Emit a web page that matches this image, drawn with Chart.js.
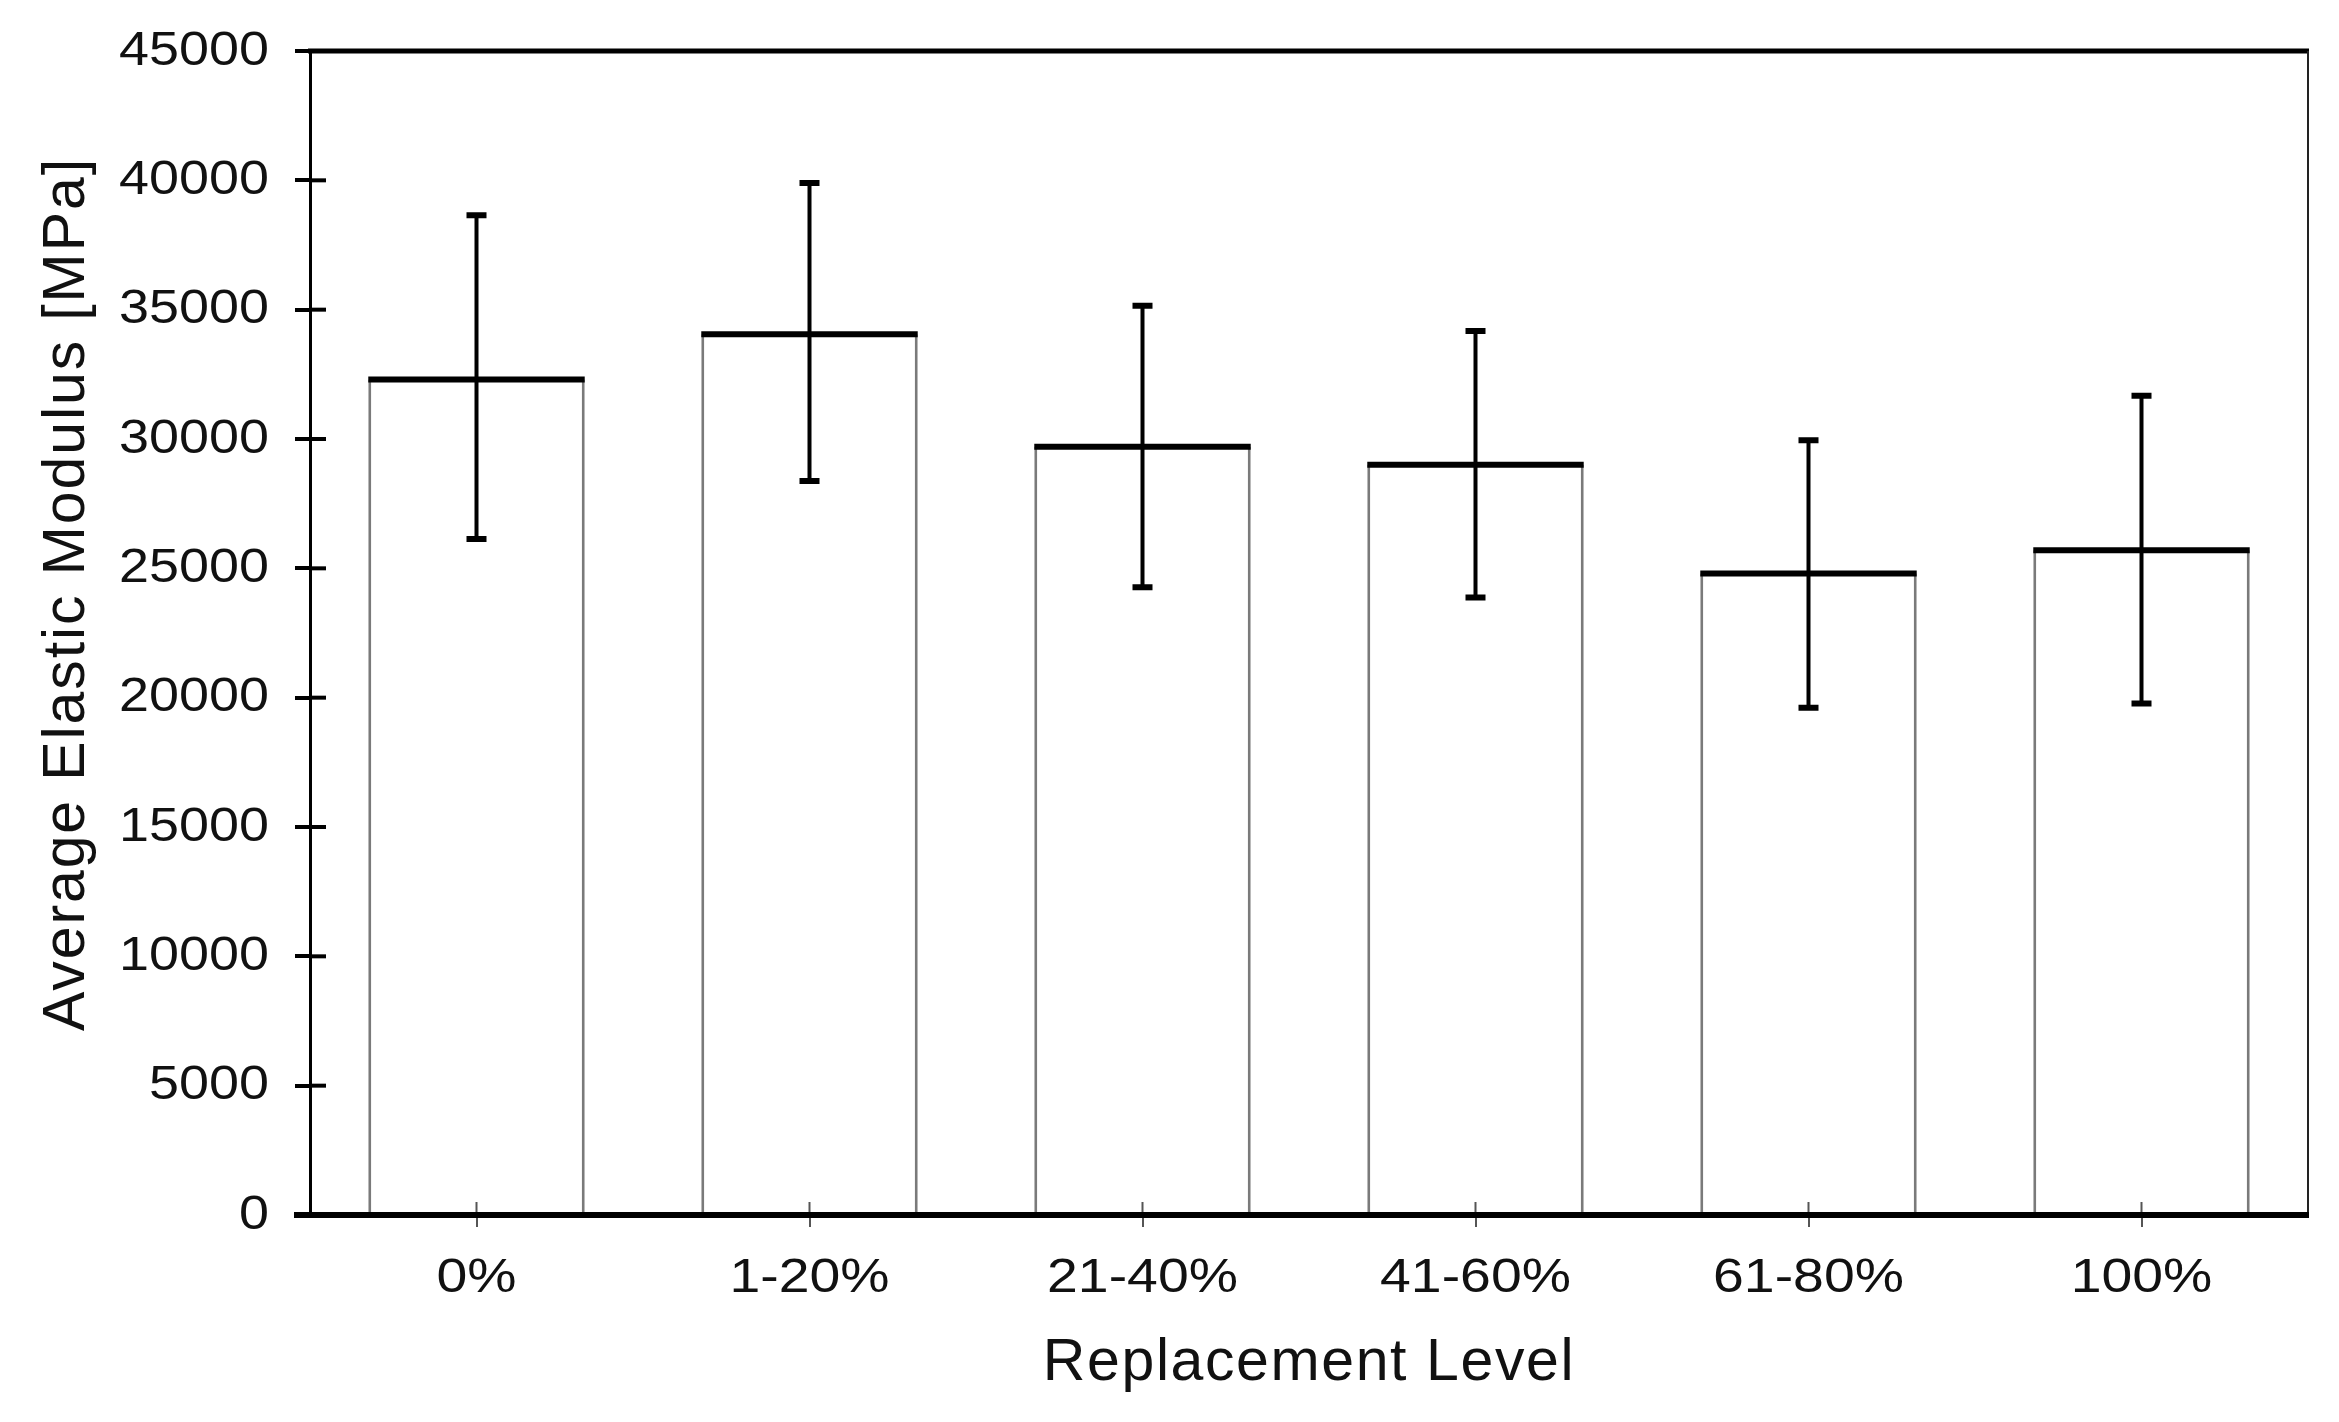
<!DOCTYPE html>
<html>
<head>
<meta charset="utf-8">
<script src="https://cdn.jsdelivr.net/npm/chart.js@4.4.0/dist/chart.umd.min.js"></script>
<style>
  html, body { margin: 0; padding: 0; background: #fff; }
  #wrap { width: 2339px; height: 1422px; }
</style>
</head>
<body>
<div id="wrap"><canvas id="chart" width="2339" height="1422"></canvas></div>
<script>
// data
const categories = ['0%', '1-20%', '21-40%', '41-60%', '61-80%', '100%'];
const meanModulus = [32300, 34050, 29700, 29000, 24800, 25700];
const errUpper = [38650, 39900, 35150, 34180, 29950, 31670];
const errLower = [26130, 28380, 24270, 23870, 19610, 19770];
const yTicks = [0, 5000, 10000, 15000, 20000, 25000, 30000, 35000, 40000, 45000];

const FONT = 'Liberation Sans, Arial, sans-serif';
const INK = '#111';

// the original glyphs are a bit wider than Arial: wrap a scale's draw method,
// optionally stretching each fillText horizontally around its anchor
function patchDraw(scale, method, opts) {
  const key = '_patched_' + method;
  if (scale[key]) return;
  scale[key] = true;
  const orig = scale[method];
  scale[method] = function(...args) {
    const ctx = this.ctx;
    ctx.save();
    if (opts.spacing) ctx.letterSpacing = opts.spacing;
    if (opts.dy) ctx.translate(0, opts.dy);
    if (opts.sx) {
      const fill = CanvasRenderingContext2D.prototype.fillText;
      ctx.fillText = function(t, x, y, m) {
        this.save();
        this.translate(x, y);
        this.scale(opts.sx, 1);
        if (m === undefined) fill.call(this, t, 0, 0); else fill.call(this, t, 0, 0, m);
        this.restore();
      };
    }
    orig.apply(this, args);
    delete ctx.fillText;
    ctx.restore();
  };
}

// frame pieces Excel draws that Chart.js doesn't: top/right border, inner tick halves
const framePlugin = {
  id: 'frame',
  afterDraw(chart) {
    const { ctx, chartArea: a, scales } = chart;
    ctx.save();
    ctx.strokeStyle = '#000';
    // top border
    ctx.lineWidth = 5;
    ctx.beginPath(); ctx.moveTo(a.left - 2, a.top); ctx.lineTo(a.right + 1, a.top); ctx.stroke();
    // right border
    ctx.lineWidth = 2;
    ctx.strokeStyle = '#222';
    ctx.beginPath(); ctx.moveTo(a.right, a.top); ctx.lineTo(a.right, a.bottom); ctx.stroke();
    // y ticks, inner half
    ctx.strokeStyle = '#000';
    ctx.lineWidth = 4;
    yTicks.forEach(v => {
      const y = scales.y.getPixelForValue(v);
      ctx.beginPath(); ctx.moveTo(a.left, y); ctx.lineTo(a.left + 16, y); ctx.stroke();
    });
    // x ticks, inner half
    ctx.strokeStyle = '#555';
    ctx.lineWidth = 2;
    categories.forEach((c, i) => {
      const x = scales.x.getPixelForValue(i);
      ctx.beginPath(); ctx.moveTo(x, a.bottom); ctx.lineTo(x, a.bottom - 13); ctx.stroke();
    });
    // x axis line again, the white bars cover it
    ctx.strokeStyle = '#000';
    ctx.lineWidth = 6;
    ctx.beginPath(); ctx.moveTo(a.left - 16, a.bottom); ctx.lineTo(a.right + 1, a.bottom); ctx.stroke();
    ctx.restore();
  }
};

// thick bar tops and error bars
const errorBarPlugin = {
  id: 'errorBars',
  afterDatasetsDraw(chart) {
    const { ctx, scales } = chart;
    const bars = chart.getDatasetMeta(0).data;
    ctx.save();
    ctx.strokeStyle = '#000';
    bars.forEach((bar, i) => {
      const half = bar.width / 2;
      ctx.lineWidth = 6;
      ctx.beginPath(); ctx.moveTo(bar.x - half, bar.y); ctx.lineTo(bar.x + half, bar.y); ctx.stroke();
      const yHi = scales.y.getPixelForValue(errUpper[i]);
      const yLo = scales.y.getPixelForValue(errLower[i]);
      ctx.lineWidth = 4;
      ctx.beginPath(); ctx.moveTo(bar.x, yHi); ctx.lineTo(bar.x, yLo); ctx.stroke();
      ctx.lineWidth = 6;
      ctx.beginPath();
      ctx.moveTo(bar.x - 10, yHi); ctx.lineTo(bar.x + 10, yHi);
      ctx.moveTo(bar.x - 10, yLo); ctx.lineTo(bar.x + 10, yLo);
      ctx.stroke();
    });
    ctx.restore();
  }
};

new Chart(document.getElementById('chart').getContext('2d'), {
  type: 'bar',
  data: {
    labels: categories,
    datasets: [{
      data: meanModulus,
      backgroundColor: '#fff',
      borderColor: '#7a7a7a',
      borderWidth: { left: 3, right: 3, top: 0, bottom: 0 },
      borderSkipped: false,
      barPercentage: 0.65,
      categoryPercentage: 1
    }]
  },
  options: {
    responsive: false,
    animation: false,
    events: [],
    layout: { padding: { top: 51, right: 31, left: 0, bottom: 0 } },
    plugins: { legend: { display: false }, tooltip: { enabled: false } },
    scales: {
      x: {
        afterFit(scale) {
          scale.height = 207;
          patchDraw(scale, 'drawLabels', { sx: 1.13 });
          patchDraw(scale, 'drawTitle', { spacing: '1.6px' });
        },
        border: { display: true, color: '#000', width: 6 },
        grid: { display: true, drawOnChartArea: false, offset: false, tickLength: 12, color: '#555', lineWidth: 2 },
        ticks: { color: INK, padding: 22, font: { family: FONT, size: 49 } },
        title: { display: true, text: 'Replacement Level', color: INK, padding: { top: 0, bottom: 23 }, font: { family: FONT, size: 59 } }
      },
      y: {
        min: 0,
        max: 45000,
        afterFit(scale) {
          scale.width = 310;
          scale.paddingTop = 0;
          scale.paddingBottom = 0;
          patchDraw(scale, 'drawLabels', { sx: 1.1 });
          patchDraw(scale, 'drawTitle', { spacing: '1.9px', dy: -39 });
        },
        afterBuildTicks(scale) { scale.ticks = yTicks.map(v => ({ value: v })); },
        border: { display: true, color: '#000', width: 3 },
        grid: { display: true, drawOnChartArea: false, tickLength: 15, color: '#000', lineWidth: 4 },
        ticks: { color: INK, padding: 26, font: { family: FONT, size: 49 }, callback: v => String(v) },
        title: { display: true, text: 'Average Elastic Modulus [MPa]', color: INK, padding: { top: 32, bottom: 0 }, font: { family: FONT, size: 59 } }
      }
    }
  },
  plugins: [framePlugin, errorBarPlugin]
});
</script>
</body>
</html>
